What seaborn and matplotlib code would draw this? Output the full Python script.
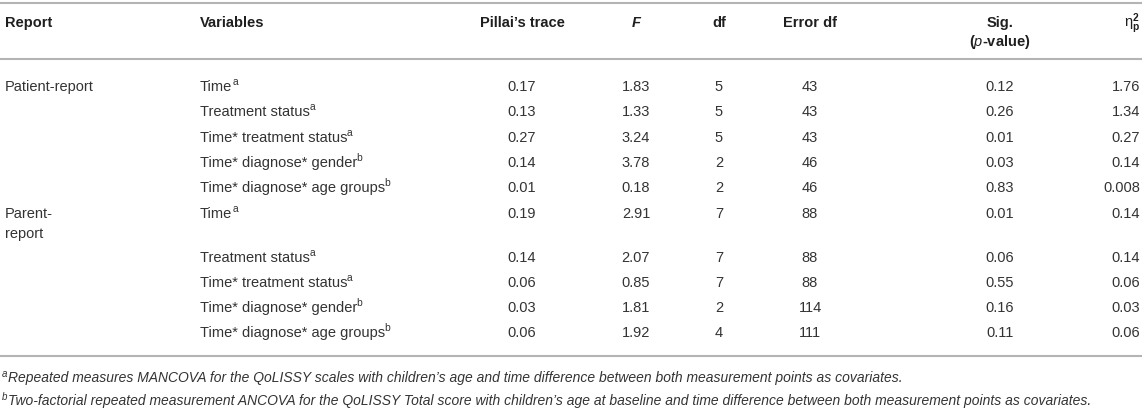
import matplotlib.pyplot as plt
import seaborn as sns
from matplotlib.font_manager import FontProperties
from matplotlib.textpath import TextPath

# table content
reports = ["Patient-report", "", "", "", "", "Parent-\nreport", "", "", "", ""]
variables = ["Time", "Treatment status", "Time* treatment status",
             "Time* diagnose* gender", "Time* diagnose* age groups",
             "Time", "Treatment status", "Time* treatment status",
             "Time* diagnose* gender", "Time* diagnose* age groups"]
notes = ["a", "a", "a", "b", "b", "a", "a", "a", "b", "b"]
pillai = [0.17, 0.13, 0.27, 0.14, 0.01, 0.19, 0.14, 0.06, 0.03, 0.06]
f_vals = [1.83, 1.33, 3.24, 3.78, 0.18, 2.91, 2.07, 0.85, 1.81, 1.92]
df_vals = [5, 5, 5, 2, 2, 7, 7, 7, 2, 4]
error_df = [43, 43, 43, 46, 46, 88, 88, 88, 114, 111]
sig = [0.12, 0.26, 0.01, 0.03, 0.83, 0.01, 0.06, 0.55, 0.16, 0.11]
eta = ["1.76", "1.34", "0.27", "0.14", "0.008", "0.14", "0.14", "0.06", "0.03", "0.06"]
footnotes = [
    ("a", "Repeated measures MANCOVA for the QoLISSY scales with children's age and time "
          "difference between both measurement points as covariates."),
    ("b", "Two-factorial repeated measurement ANCOVA for the QoLISSY Total score with children's "
          "age at baseline and time difference between both measurement points as covariates."),
]

sns.set_theme(style="white")
plt.rcParams["font.family"] = ["Liberation Sans", "DejaVu Sans"]
plt.rcParams["mathtext.fontset"] = "custom"
plt.rcParams["mathtext.rm"] = "Liberation Sans"
plt.rcParams["mathtext.it"] = "Liberation Sans:italic"
plt.rcParams["mathtext.bf"] = "Liberation Sans:bold"

W, H = 1145, 418
fig = plt.figure(figsize=(W / 100, H / 100), dpi=100)
ax = fig.add_axes([0, 0, 1, 1])
ax.set_xlim(0, W)
ax.set_ylim(H, 0)
ax.axis("off")

FS = 10.5
FN = 10.0
BODY = "#333333"
HEAD = "#1f1f1f"
RULE = "#b4b4b4"

# column x positions
x_report, x_var = 5, 200
x_pillai, x_f, x_df, x_err, x_sig, x_eta = 522, 636, 719, 810, 1000, 1140


def text_with_sup(x, y, base, sup, size, color):
    """left-aligned text followed by a small raised letter"""
    ax.text(x, y, base, ha="left", va="center", fontsize=size, color=color)
    fp = FontProperties(family="Liberation Sans", size=size)
    ink_end = TextPath((0, 0), base, prop=fp).get_extents().x1 * 100 / 72
    ax.text(x + ink_end + 1, y - 5, sup, ha="left", va="center",
            fontsize=size * 0.7, color=color)


# header
hy = 23
hk = dict(fontsize=FS, fontweight="bold", color=HEAD, va="center")
ax.text(x_report, hy, "Report", ha="left", **hk)
ax.text(x_var, hy, "Variables", ha="left", **hk)
ax.text(x_pillai, hy, "Pillai\u2019s trace", ha="center", **hk)
ax.text(x_f, hy, "F", ha="center", style="italic", **hk)
ax.text(x_df, hy, "df", ha="center", **hk)
ax.text(x_err, hy, "Error df", ha="center", **hk)
ax.text(x_sig, hy, "Sig.", ha="center", **hk)
ax.text(x_sig, 42, r"($\mathbf{\it{p}}$-value)", ha="center", **hk)
ax.text(x_eta, hy + 1, r"$\mathregular{\eta}_{\mathbf{p}}^{\mathbf{2}}$",
        ha="right", fontsize=FS, color=HEAD, va="center")

# rules
for y in (3, 59, 356):
    ax.plot([0, 1142], [y, y], color=RULE, lw=1.5, solid_capstyle="butt")

# body rows
bk = dict(fontsize=FS, color=BODY, va="center")
y = 87
for i in range(len(variables)):
    if reports[i]:
        for j, ln in enumerate(reports[i].split("\n")):
            ax.text(x_report, y + 20 * j, ln, ha="left", **bk)
    text_with_sup(x_var, y, variables[i], notes[i], FS, BODY)
    ax.text(x_pillai, y, f"{pillai[i]:.2f}", ha="center", **bk)
    ax.text(x_f, y, f"{f_vals[i]:.2f}", ha="center", **bk)
    ax.text(x_df, y, str(df_vals[i]), ha="center", **bk)
    ax.text(x_err, y, str(error_df[i]), ha="center", **bk)
    ax.text(x_sig, y, f"{sig[i]:.2f}", ha="center", **bk)
    ax.text(x_eta, y, eta[i], ha="right", **bk)
    y += 44 if "\n" in reports[i] else 25.3

# footnotes
fy = 378
for mark, txt in footnotes:
    ax.text(2, fy - 4, mark, ha="left", va="center", style="italic",
            fontsize=FN * 0.7, color=BODY)
    ax.text(8, fy, txt.replace("'", "\u2019"), ha="left", va="center",
            style="italic", fontsize=FN, color=BODY)
    fy += 23

fig.savefig("out.png", dpi=100, facecolor="white")
